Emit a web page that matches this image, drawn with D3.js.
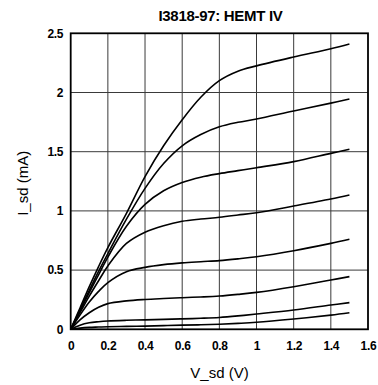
<!DOCTYPE html>
<html>
<head>
<meta charset="utf-8">
<script src="https://cdn.jsdelivr.net/npm/d3@7"></script>
<style>
  body { margin: 0; background: #fff; }
  svg { display: block; }
</style>
</head>
<body>
<svg id="chart"></svg>
<script>
// sweep points (V_sd, V) shared by every trace
const vsd = [0, 0.05, 0.1, 0.15, 0.2, 0.3, 0.4, 0.5, 0.6, 0.7, 0.8, 0.9, 1.0, 1.2, 1.4, 1.5];

// I_sd (mA), one array per gate step, bottom to top
const trace1 = [0, 0.01, 0.016, 0.019, 0.022, 0.025, 0.027, 0.031, 0.035, 0.038, 0.043, 0.05, 0.059, 0.087, 0.12, 0.14];
const trace2 = [0, 0.035, 0.055, 0.064, 0.07, 0.076, 0.08, 0.084, 0.088, 0.093, 0.1, 0.113, 0.129, 0.163, 0.205, 0.225];
const trace3 = [0, 0.08, 0.14, 0.186, 0.217, 0.24, 0.252, 0.26, 0.267, 0.273, 0.281, 0.295, 0.312, 0.36, 0.416, 0.445];
const trace4 = [0, 0.12, 0.23, 0.32, 0.395, 0.487, 0.523, 0.546, 0.561, 0.571, 0.58, 0.595, 0.613, 0.664, 0.726, 0.76];
const trace5 = [0, 0.14, 0.28, 0.41, 0.535, 0.725, 0.82, 0.875, 0.912, 0.931, 0.946, 0.965, 0.985, 1.041, 1.10, 1.134];
const trace6 = [0, 0.155, 0.31, 0.46, 0.61, 0.87, 1.055, 1.17, 1.24, 1.285, 1.315, 1.34, 1.365, 1.416, 1.486, 1.52];
const trace7 = [0, 0.165, 0.33, 0.49, 0.64, 0.93, 1.19, 1.40, 1.55, 1.645, 1.71, 1.748, 1.776, 1.844, 1.91, 1.945];
const trace8 = [0, 0.18, 0.36, 0.53, 0.69, 0.98, 1.29, 1.55, 1.77, 1.96, 2.1, 2.18, 2.225, 2.30, 2.37, 2.41];

const traces = [trace1, trace2, trace3, trace4, trace5, trace6, trace7, trace8];

const xTicks = [0, 0.2, 0.4, 0.6, 0.8, 1, 1.2, 1.4, 1.6];
const yTicks = [0, 0.5, 1, 1.5, 2, 2.5];

const width = 378, height = 385;
const margin = { top: 33.3, right: 10, bottom: 55.7, left: 70.7 };
const font = "'Liberation Sans', Arial, sans-serif";

const svg = d3.select("#chart")
  .attr("width", width)
  .attr("height", height);

const x = d3.scaleLinear()
  .domain([0, 1.6])
  .range([margin.left, width - margin.right]);

const y = d3.scaleLinear()
  .domain([0, 2.5])
  .range([height - margin.bottom, margin.top]);

const fmt = d3.format("~g");

// grid
svg.append("g")
  .attr("class", "grid")
  .attr("stroke", "#3a3a3a")
  .attr("stroke-width", 1)
  .call(g => g.selectAll(".vx")
    .data(xTicks.slice(1, -1))
    .join("line")
    .attr("x1", x).attr("x2", x)
    .attr("y1", y(0)).attr("y2", y(2.5)))
  .call(g => g.selectAll(".hy")
    .data(yTicks.slice(1, -1))
    .join("line")
    .attr("y1", y).attr("y2", y)
    .attr("x1", x(0)).attr("x2", x(1.6)));

// traces
const line = d3.line()
  .x((d, i) => x(vsd[i]))
  .y(d => y(d))
  .curve(d3.curveCatmullRom.alpha(0.5));

svg.append("g")
  .selectAll("path")
  .data(traces)
  .join("path")
  .attr("fill", "none")
  .attr("stroke", "#000")
  .attr("stroke-width", 1.6)
  .attr("d", line);

// frame
svg.append("rect")
  .attr("x", x(0))
  .attr("y", y(2.5))
  .attr("width", x(1.6) - x(0))
  .attr("height", y(0) - y(2.5))
  .attr("fill", "none")
  .attr("stroke", "#000")
  .attr("stroke-width", 1.8);

// axes (labels only)
const xAxis = svg.append("g")
  .attr("transform", `translate(0, ${y(0)})`)
  .call(d3.axisBottom(x).tickValues(xTicks).tickFormat(fmt).tickSize(0).tickPadding(12.5));

const yAxis = svg.append("g")
  .attr("transform", `translate(${x(0)}, 0)`)
  .call(d3.axisLeft(y).tickValues(yTicks).tickFormat(fmt).tickSize(0).tickPadding(7.5));

[xAxis, yAxis].forEach(g => {
  g.select(".domain").remove();
  g.selectAll("text")
    .attr("font-family", font)
    .attr("font-size", 12)
    .attr("font-weight", "bold")
    .attr("letter-spacing", -0.3)
    .attr("fill", "#000");
});

// title and axis titles
svg.append("text")
  .attr("x", 220.5)
  .attr("y", 20.5)
  .attr("text-anchor", "middle")
  .attr("font-family", font)
  .attr("font-size", 15)
  .attr("font-weight", "bold")
  .attr("letter-spacing", -0.3)
  .text("I3818-97: HEMT IV");

svg.append("text")
  .attr("x", 219.5)
  .attr("y", 377.5)
  .attr("text-anchor", "middle")
  .attr("font-family", font)
  .attr("font-size", 15)
  .text("V_sd (V)");

svg.append("text")
  .attr("transform", `translate(27.5, 183.3) rotate(-90)`)
  .attr("text-anchor", "middle")
  .attr("font-family", font)
  .attr("font-size", 15)
  .text("I_sd (mA)");
</script>
</body>
</html>
